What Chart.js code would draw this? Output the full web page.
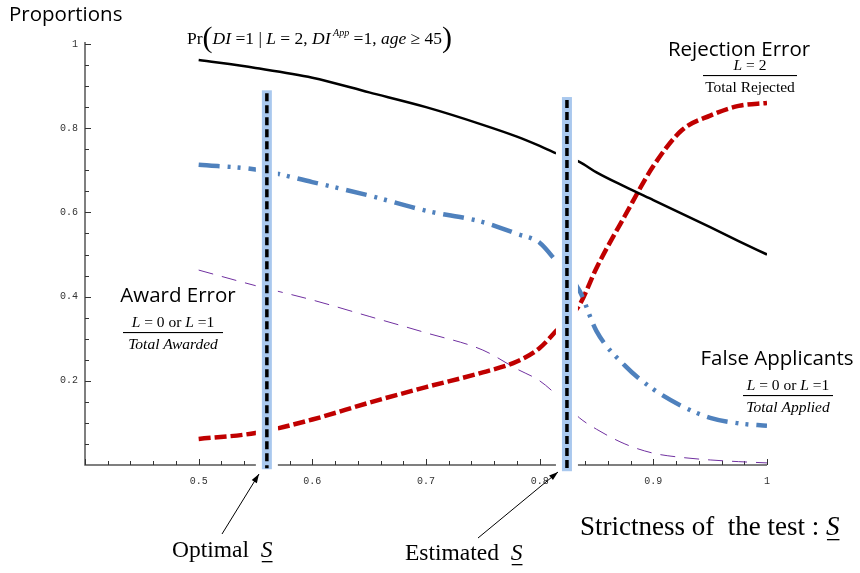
<!DOCTYPE html>
<html><head><meta charset="utf-8">
<script src="https://cdn.jsdelivr.net/npm/chart.js@4/dist/chart.umd.min.js"></script>
<style>html,body{margin:0;padding:0;background:#fff;} #wrap{width:860px;height:573px;position:relative;}</style>
</head><body><div id="wrap"><canvas id="c" width="860" height="573"></canvas></div>
<script>
// ---- data ----
const strictness      = [0.5, 0.55, 0.6, 0.65, 0.7, 0.75, 0.78, 0.8, 0.815, 0.835, 0.85, 0.875, 0.9, 0.925, 0.95, 0.975, 1.0];
const probDI          = [0.962, 0.943, 0.920, 0.885, 0.850, 0.808, 0.780, 0.758, 0.740, 0.720, 0.695, 0.661, 0.629, 0.597, 0.565, 0.532, 0.500];
const falseApplicants = [0.713, 0.702, 0.672, 0.640, 0.604, 0.577, 0.549, 0.528, 0.482, 0.414, 0.318, 0.236, 0.180, 0.140, 0.112, 0.099, 0.093];
const rejectionError  = [0.062, 0.076, 0.108, 0.148, 0.185, 0.220, 0.246, 0.278, 0.320, 0.380, 0.468, 0.592, 0.710, 0.795, 0.830, 0.853, 0.860];
const awardError      = [0.463, 0.426, 0.392, 0.353, 0.314, 0.273, 0.228, 0.200, 0.166, 0.112, 0.085, 0.050, 0.028, 0.018, 0.012, 0.008, 0.005];
const cutoffValues    = [0.56, 0.824];      // Optimal S, Estimated S
const cutoffTops      = [0.89, 0.874];
const xTickLabels     = ['0.5', '0.6', '0.7', '0.8', '0.9', '1'];
const yTickLabels     = ['0.2', '0.4', '0.6', '0.8', '1'];

const pts = arr => strictness.map((s, i) => ({x: s, y: arr[i]}));

function serif(size, italic) { return (italic ? 'italic ' : '') + size + 'px "Liberation Serif"'; }
function drawRich(ctx, x, y, segs, align) {
  let w = 0;
  segs.forEach(s => { ctx.font = serif(s.size, s.italic); s.w = ctx.measureText(s.t).width; w += s.w; });
  let cx = align === 'center' ? x - w / 2 : (align === 'right' ? x - w : x);
  segs.forEach(s => {
    ctx.font = serif(s.size, s.italic);
    ctx.fillText(s.t, cx, y + (s.dy || 0));
    if (s.ul) ctx.fillRect(cx + 1, y + 4, s.w - 1, 1.3);
    cx += s.w;
  });
  return w;
}
function fraction(ctx, cx, lineY, x1, x2, num, den) {
  drawRich(ctx, cx, lineY - 5, num, 'center');
  ctx.fillRect(x1, lineY, x2 - x1, 1.1);
  drawRich(ctx, cx, lineY + 17, den, 'center');
}
function arrow(ctx, x0, y0, x1, y1) {
  ctx.save();
  ctx.strokeStyle = '#000'; ctx.fillStyle = '#000'; ctx.lineWidth = 1;
  ctx.beginPath(); ctx.moveTo(x0, y0); ctx.lineTo(x1, y1); ctx.stroke();
  const a = Math.atan2(y1 - y0, x1 - x0);
  ctx.translate(x1, y1); ctx.rotate(a);
  ctx.beginPath(); ctx.moveTo(0, 0); ctx.lineTo(-9, -3); ctx.lineTo(-9, 3); ctx.closePath(); ctx.fill();
  ctx.restore();
}

const decor = {
  id: 'decor',
  beforeDatasetsDraw(chart) {
    const {ctx, chartArea: a, scales: {x, y}} = chart;
    ctx.save();
    ctx.strokeStyle = '#555'; ctx.lineWidth = 1.5;
    ctx.beginPath();
    ctx.moveTo(a.left, a.top - 2); ctx.lineTo(a.left, a.bottom); ctx.lineTo(a.right, a.bottom);
    ctx.stroke();
    ctx.lineWidth = 1; ctx.strokeStyle = '#333';
    for (let k = 1; k <= 20; k++) {
      const v = k * 0.05, py = Math.round(y.getPixelForValue(v)) + 0.5;
      const len = (k % 4 === 0) ? 6 : 4;
      ctx.beginPath(); ctx.moveTo(a.left, py); ctx.lineTo(a.left + len, py); ctx.stroke();
    }
    for (let k = 0; k <= 30; k++) {
      const v = 0.4 + k * 0.02, px = Math.round(x.getPixelForValue(v)) + 0.5;
      const len = (k % 5 === 0) ? 6 : 4;
      ctx.beginPath(); ctx.moveTo(px, a.bottom); ctx.lineTo(px, a.bottom - len); ctx.stroke();
    }
    ctx.restore();
  },
  afterDatasetsDraw(chart) {
    const {ctx, scales: {x, y}} = chart;
    ctx.save();
    cutoffValues.forEach((c, i) => {
      const px = x.getPixelForValue(c);
      const top = y.getPixelForValue(cutoffTops[i]);
      const bot = y.getPixelForValue(-0.01) + (i === 1 ? 2 : 0);
      ctx.fillStyle = '#fff';
      ctx.fillRect(px - 11, top - 2, 22, bot - top + 3);
      ctx.fillStyle = '#a9c8ee';
      ctx.fillRect(px - 5, top, 10, bot - top);
      ctx.strokeStyle = '#000'; ctx.lineWidth = 3.5; ctx.setLineDash([8, 4]);
      ctx.beginPath(); ctx.moveTo(px, top + 3); ctx.lineTo(px, bot - 1); ctx.stroke();
      ctx.setLineDash([]);
    });
    ctx.restore();
  },
  afterDraw(chart) {
    const ctx = chart.ctx;
    ctx.save();
    ctx.fillStyle = '#000'; ctx.textBaseline = 'alphabetic';
    ctx.font = '20.5px "Open Sans"'; ctx.textAlign = 'left';
    ctx.fillText('Proportions', 9, 21);
    ctx.textAlign = 'center';
    ctx.fillText('Rejection Error', 739, 56);
    ctx.fillText('Award Error', 178, 302);
    ctx.fillText('False Applicants', 777, 365);
    ctx.textAlign = 'left';

    // formula
    const F = 17.5;
    drawRich(ctx, 187, 44, [
      {t: 'Pr', size: F}, {t: '(', size: 30, dy: 3},
      {t: 'DI', size: F, italic: true}, {t: ' =1 | ', size: F},
      {t: 'L', size: F, italic: true}, {t: ' = 2, ', size: F},
      {t: 'DI', size: F, italic: true}, {t: ' App', size: 10, italic: true, dy: -8},
      {t: ' =1, ', size: F}, {t: 'age', size: F, italic: true},
      {t: ' \u2265 45', size: F}, {t: ')', size: 30, dy: 3}
    ], 'left');

    const f = 15.5;
    fraction(ctx, 750, 75, 703, 797,
      [{t: 'L', size: f, italic: true}, {t: ' = 2', size: f}],
      [{t: 'Total Rejected', size: f}]);
    fraction(ctx, 173, 332, 123, 223,
      [{t: 'L', size: f, italic: true}, {t: ' = 0 or ', size: f}, {t: 'L', size: f, italic: true}, {t: ' =1', size: f}],
      [{t: 'Total Awarded', size: f, italic: true}]);
    fraction(ctx, 788, 395, 743, 833,
      [{t: 'L', size: f, italic: true}, {t: ' = 0 or ', size: f}, {t: 'L', size: f, italic: true}, {t: ' =1', size: f}],
      [{t: 'Total Applied', size: f, italic: true}]);

    drawRich(ctx, 580, 535, [{t: 'Strictness of  the test : ', size: 27}, {t: 'S', size: 27, italic: true, ul: true}], 'left');
    drawRich(ctx, 172, 557, [{t: 'Optimal  ', size: 23.5}, {t: 'S', size: 23.5, italic: true, ul: true}], 'left');
    drawRich(ctx, 405, 560, [{t: 'Estimated  ', size: 23.5}, {t: 'S', size: 23.5, italic: true, ul: true}], 'left');

    arrow(ctx, 222, 534, 259, 474);
    arrow(ctx, 478, 538, 558, 472);
    ctx.restore();
  }
};

const fmt = v => String(Number(Number(v).toFixed(2)));

new Chart(document.getElementById('c'), {
  type: 'line',
  data: {
    datasets: [
      {label: 'Pr(DI=1 | L=2, DI App=1, age>=45)', data: pts(probDI), borderColor: '#000', borderWidth: 2.5},
      {label: 'False Applicants', data: pts(falseApplicants), borderColor: '#4f81bd', borderWidth: 4.5, borderDash: [21, 8, 3, 7, 3, 8]},
      {label: 'Rejection Error', data: pts(rejectionError), borderColor: '#c00000', borderWidth: 4.5, borderDash: [12, 4]},
      {label: 'Award Error', data: pts(awardError), borderColor: '#7030a0', borderWidth: 1, borderDash: [15, 9]}
    ]
  },
  options: {
    responsive: false, animation: false, devicePixelRatio: 1,
    elements: {point: {radius: 0}, line: {cubicInterpolationMode: 'monotone', fill: false, borderCapStyle: 'butt'}},
    layout: {padding: {top: 44, right: 93, left: 0, bottom: 0}},
    plugins: {legend: {display: false}, tooltip: {enabled: false}},
    scales: {
      x: {
        type: 'linear', min: 0.4, max: 1.0,
        grid: {display: false, drawTicks: false, tickLength: 0}, border: {display: false},
        ticks: {stepSize: 0.1, autoSkip: false, maxRotation: 0, padding: 10,
          font: {family: '"Liberation Mono"', size: 10}, color: '#333',
          callback: v => xTickLabels.includes(fmt(v)) ? fmt(v) : ''},
        afterFit: s => { s.height = 108; }
      },
      y: {
        min: 0, max: 1,
        grid: {display: false, drawTicks: false, tickLength: 0}, border: {display: false},
        ticks: {stepSize: 0.2, padding: 7,
          font: {family: '"Liberation Mono"', size: 10}, color: '#333',
          callback: v => yTickLabels.includes(fmt(v)) ? fmt(v) : ''},
        afterFit: s => { s.width = 85; }
      }
    }
  },
  plugins: [decor]
});
</script>
</body></html>
